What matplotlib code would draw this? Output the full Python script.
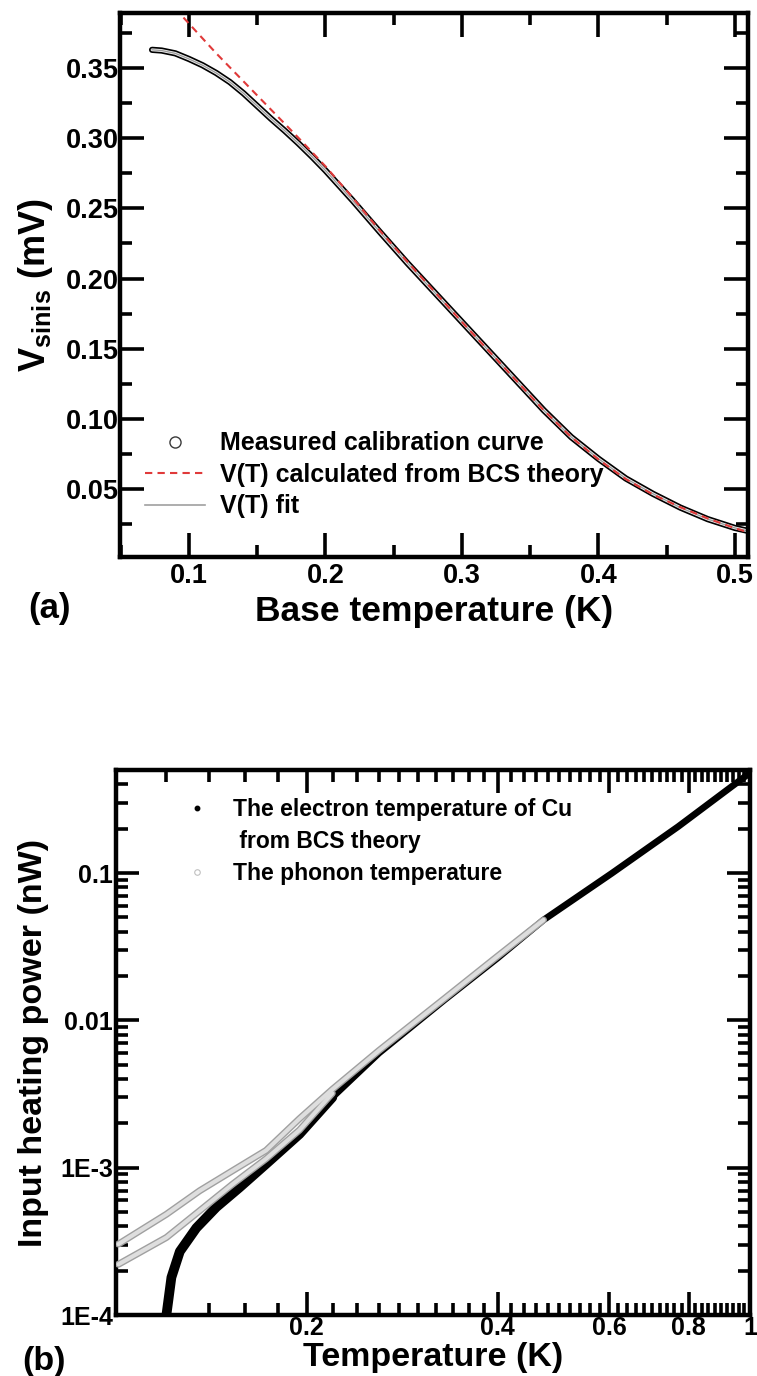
import numpy as np
import matplotlib
matplotlib.use("Agg")
import matplotlib.pyplot as plt
from matplotlib.lines import Line2D
from matplotlib.ticker import (FixedLocator, FixedFormatter, NullFormatter, LogLocator,
                               MultipleLocator, FormatStrFormatter)

plt.rcParams["font.family"] = ["Liberation Sans", "DejaVu Sans"]
plt.rcParams["font.weight"] = "bold"
plt.rcParams["mathtext.fontset"] = "custom"
plt.rcParams["mathtext.rm"] = "Liberation Sans:bold"
plt.rcParams["mathtext.it"] = "Liberation Sans:bold"
plt.rcParams["mathtext.bf"] = "Liberation Sans:bold"

# ---------------- (a) SINIS thermometer calibration ----------------
T_meas = [0.073, 0.08, 0.09, 0.10, 0.11, 0.12, 0.13, 0.14, 0.15, 0.16, 0.17, 0.18,
          0.19, 0.20, 0.22, 0.24, 0.26, 0.28, 0.30, 0.32, 0.34, 0.36, 0.38, 0.40,
          0.42, 0.44, 0.46, 0.48, 0.50, 0.51]
V_meas = [0.363, 0.3625, 0.3605, 0.3565, 0.352, 0.3465, 0.340, 0.332, 0.323, 0.314,
          0.3055, 0.2965, 0.2870, 0.2770, 0.2555, 0.233, 0.211, 0.190, 0.169, 0.148,
          0.127, 0.106, 0.087, 0.0715, 0.0575, 0.0465, 0.0367, 0.0285, 0.0222, 0.0200]
# fitted V(T) curve follows the measured points
T_fit = T_meas
V_fit = V_meas
# V(T) from BCS theory
T_bcs = [0.096, 0.12, 0.14, 0.16, 0.18, 0.20, 0.22, 0.24, 0.26, 0.28, 0.30, 0.32,
         0.34, 0.36, 0.38, 0.40, 0.42, 0.44, 0.46, 0.48, 0.50, 0.51]
V_bcs = [0.386, 0.3605, 0.3405, 0.3205, 0.3005, 0.280, 0.2575, 0.234, 0.212, 0.1905,
         0.169, 0.148, 0.127, 0.106, 0.087, 0.071, 0.057, 0.046, 0.037, 0.029, 0.022, 0.019]

legend_a = ["Measured calibration curve", "V(T) calculated from BCS theory", "V(T) fit"]

# ---------------- (b) heating power vs temperature ----------------
T_el = [0.1201, 0.1223, 0.1261, 0.1339, 0.1440, 0.1567, 0.1725, 0.1947, 0.2194,
        0.26, 0.33, 0.40, 0.4725, 0.5, 0.6054, 0.70, 0.7706, 0.9826, 1.0]
P_el = [1.0e-4, 1.8e-4, 2.7e-4, 3.9e-4, 5.4e-4, 7.35e-4, 1.06e-3, 1.69e-3, 3.0e-3,
        6.0e-3, 0.0138, 0.0265, 0.048, 0.0567, 0.0995, 0.1545, 0.2066, 0.452, 0.477]

T_ph_up = [0.1009, 0.1201, 0.1355, 0.1528, 0.1725, 0.1947, 0.2194, 0.26, 0.33, 0.3966, 0.4725]
P_ph_up = [3.03e-4, 4.83e-4, 6.97e-4, 9.55e-4, 1.31e-3, 2.15e-3, 3.4e-3, 6.25e-3, 0.0141, 0.0265, 0.048]
T_ph_dn = [0.1009, 0.1201, 0.1355, 0.1528, 0.1725, 0.1947, 0.2194]
P_ph_dn = [2.21e-4, 3.36e-4, 5.1e-4, 7.74e-4, 1.15e-3, 1.8e-3, 3.2e-3]

legend_b = ["The electron temperature of Cu", " from BCS theory", "The phonon temperature"]

x_major_b = [0.2, 0.4, 0.6, 0.8, 1.0]
x_major_b_labels = ["0.2", "0.4", "0.6", "0.8", "1"]
y_major_b = [1e-4, 1e-3, 1e-2, 1e-1]
y_major_b_labels = ["1E-4", "1E-3", "0.01", "0.1"]

fig = plt.figure(figsize=(7.57, 13.76), dpi=100)
ax1 = fig.add_axes([0.1585, 0.5952, 0.8296, 0.3953])
ax2 = fig.add_axes([0.1532, 0.0443, 0.8375, 0.3961])


def style_axes(ax, maj_len, min_len, tick_fs):
    for s in ax.spines.values():
        s.set_linewidth(3.2)
    ax.tick_params(which="both", direction="in", top=True, right=True,
                   width=2.6, labelsize=tick_fs)
    ax.tick_params(which="major", length=maj_len)
    ax.tick_params(which="minor", length=min_len)
    for lab in ax.get_xticklabels() + ax.get_yticklabels():
        lab.set_fontweight("bold")


# ---- panel (a) ----
# measured points drawn as a dark-rimmed tube
ax1.plot(T_meas, V_meas, color="black", lw=4.5, solid_capstyle="round", zorder=2)
ax1.plot(T_meas, V_meas, color="#efefef", lw=2.1, solid_capstyle="round", zorder=2.1)
ax1.plot(T_fit, V_fit, color="#9a9a9a", lw=0.9, zorder=2.2)
ax1.plot(T_bcs, V_bcs, color="#e03a3a", lw=1.5, ls=(0, (3.5, 2.5)), zorder=3)

ax1.set_xlim(0.0495, 0.5095)
ax1.set_ylim(0.0015, 0.3892)
ax1.xaxis.set_major_locator(MultipleLocator(0.1))
ax1.xaxis.set_minor_locator(MultipleLocator(0.05))
ax1.xaxis.set_major_formatter(FormatStrFormatter("%.1f"))
ax1.yaxis.set_major_locator(MultipleLocator(0.05))
ax1.yaxis.set_minor_locator(MultipleLocator(0.025))
ax1.yaxis.set_major_formatter(FormatStrFormatter("%.2f"))
style_axes(ax1, 17, 8.5, 19.5)
ax1.tick_params(axis="y", pad=1)
ax1.tick_params(axis="x", pad=4)

ax1.set_xlabel("Base temperature (K)", fontsize=25.5, fontweight="bold", va="baseline")
ax1.xaxis.set_label_coords(0.5, -0.1185)
ax1.set_ylabel(r"V$_{\rm sinis}$ (mV)", fontsize=26, fontweight="bold", va="baseline")
ax1.yaxis.set_label_coords(-0.1194, 0.5)

h_meas = Line2D([], [], ls="none", marker="o", ms=8, mfc="white", mec="#3a3a3a", mew=1.0)
h_bcs = Line2D([], [], color="#e03a3a", lw=1.5, ls=(0, (3.5, 2.5)))
h_fit = Line2D([], [], color="#a0a0a0", lw=1.2)
ax1.legend([h_meas, h_bcs, h_fit], legend_a, loc="upper left",
           bbox_to_anchor=(0.0398, 0.231), frameon=False,
           prop={"size": 18, "weight": "bold"}, handlelength=2.4,
           handletextpad=0.6, labelspacing=0.3, borderpad=0, borderaxespad=0)

# ---- panel (b) ----
ax2.set_xscale("log")
ax2.set_yscale("log")
n_low = 9  # low-temperature points form a broader band
ax2.plot(T_el[:n_low], P_el[:n_low], color="black", lw=7.0, solid_capstyle="round", zorder=2)
ax2.plot(T_el[n_low - 1:], P_el[n_low - 1:], color="black", lw=4.8,
         solid_capstyle="round", zorder=2)
for T_s, P_s in ((T_ph_dn, P_ph_dn), (T_ph_up, P_ph_up)):
    ax2.plot(T_s, P_s, color="#a0a0a0", lw=5.0, solid_capstyle="round", zorder=3)
    ax2.plot(T_s, P_s, color="#dedede", lw=3.0, solid_capstyle="round", zorder=3.1)

ax2.set_xlim(0.1, 1.0)
ax2.set_ylim(1e-4, 0.5)
ax2.xaxis.set_major_locator(FixedLocator(x_major_b))
ax2.xaxis.set_major_formatter(FixedFormatter(x_major_b_labels))
x_minor = [round(v, 2) for v in np.arange(0.12, 1.0, 0.02)
           if round(v, 2) not in (0.2, 0.4, 0.6, 0.8)]
ax2.xaxis.set_minor_locator(FixedLocator(x_minor))
ax2.xaxis.set_minor_formatter(NullFormatter())
ax2.yaxis.set_major_locator(FixedLocator(y_major_b))
ax2.yaxis.set_major_formatter(FixedFormatter(y_major_b_labels))
ax2.yaxis.set_minor_locator(LogLocator(base=10, subs=np.arange(2, 10), numticks=20))
ax2.yaxis.set_minor_formatter(NullFormatter())
style_axes(ax2, 16.5, 8.5, 18)
ax2.tick_params(axis="y", pad=2)
ax2.tick_params(axis="x", pad=1)

ax2.set_xlabel("Temperature (K)", fontsize=24.5, fontweight="bold", va="baseline")
ax2.xaxis.set_label_coords(0.5, -0.0936)
ax2.set_ylabel("Input heating power (nW)", fontsize=24.5, fontweight="bold", va="baseline")
ax2.yaxis.set_label_coords(-0.1167, 0.5)

h_el = Line2D([], [], ls="none", marker="o", ms=3.2, mfc="black", mec="black")
h_blank = Line2D([], [], ls="none")
h_ph = Line2D([], [], ls="none", marker="o", ms=4, mfc="white", mec="#c0c0c0", mew=0.8)
ax2.legend([h_el, h_blank, h_ph], legend_b, loc="upper left",
           bbox_to_anchor=(0.110, 0.9486), frameon=False,
           prop={"size": 16.5, "weight": "bold"}, handlelength=1.0,
           handletextpad=1.05, labelspacing=0.4, borderpad=0, borderaxespad=0)

fig.text(0.066, 0.558, "(a)", fontsize=25, fontweight="bold", ha="center", va="center")
fig.text(0.058, 0.0105, "(b)", fontsize=24.5, fontweight="bold", ha="center", va="center")

fig.savefig("out.png", dpi=100)
